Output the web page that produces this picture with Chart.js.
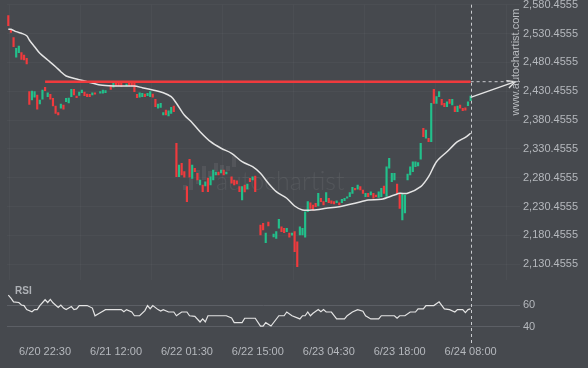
<!DOCTYPE html>
<html>
<head>
<meta charset="utf-8">
<script src="https://cdn.jsdelivr.net/npm/chart.js@4.4.1/dist/chart.umd.min.js"></script>
<style>
  html, body { margin: 0; padding: 0; background: #46494e; }
  #wrap { position: relative; width: 588px; height: 368px; overflow: hidden; }
  .panel { position: absolute; left: 0; width: 588px; }
  #pricePanel { top: 0; height: 280px; }
  #rsiPanel { top: 280px; height: 88px; }
</style>
</head>
<body>
<div id="wrap">
  <div class="panel" id="pricePanel"><canvas id="priceChart"></canvas></div>
  <div class="panel" id="rsiPanel"><canvas id="rsiChart"></canvas></div>
</div>
<script>
// velas de 30 min, t = numero de vela desde 6/20 22:30
const candleT = [
  -14, -13, -12, -11, -10, -9, -8, -7, -6, -5, -4, -3, -2, -1,
  0, 1, 2, 3, 4, 5, 6, 7, 8, 9, 10, 11, 12, 13, 14, 15, 16, 17, 18, 19,
  21, 22, 23, 25, 26, 27, 28, 29, 31, 32, 33, 34, 35, 36, 37, 38, 39, 40,
  41, 42, 43, 44, 45, 46, 47, 48, 49, 50, 51, 52, 53, 54, 55, 56, 57, 58,
  59, 60, 61, 62, 63, 64, 65, 66, 67, 68, 69, 71, 72, 73, 74, 75, 76, 77,
  78, 79, 80, 82, 83, 84, 85, 87, 88, 89, 90, 91, 92, 93, 94, 95, 96, 97,
  98, 99, 100, 101, 102, 103, 104, 105, 106, 107, 108, 109, 110, 111, 112,
  113, 114, 115, 116, 117, 118, 119, 120, 121, 122, 123, 124, 125, 126, 127,
  128, 129, 130, 131, 132, 133, 134, 135, 136, 137, 138, 139, 140, 141, 142,
  143, 144, 145, 146, 147, 148, 149, 150, 151, 152, 153, 154, 155, 156, 157,
  158, 159, 160, 161, 162
];
const candleOpen = [
  2561.4, 2537.8, 2523.3, 2489.3, 2497.3, 2497.3, 2493.3, 2487.5, 2429.7, 2415.3, 2420.0, 2423.9, 2408.3, 2416.5,
  2437.3, 2421.0, 2425.2, 2418.2, 2404.9, 2393.3, 2400.9, 2406.6, 2412.3, 2410.0, 2421.0, 2433.8, 2422.2, 2423.4, 2427.9, 2429.1, 2425.7, 2425.2, 2423.9, 2427.9,
  2427.0, 2427.0, 2428.0, 2441.3, 2437.3, 2447.0, 2445.3, 2444.2, 2439.5, 2444.2, 2445.3, 2447.0, 2425.2, 2420.0, 2421.0, 2425.7, 2422.7, 2421.0,
  2425.7, 2416.5, 2400.9, 2402.6, 2389.3, 2397.9, 2387.5, 2392.2, 2404.9, 2340.2, 2282.3, 2305.5, 2291.0, 2265.0, 2312.5, 2279.5, 2296.9, 2288.2,
  2268.0, 2268.0, 2266.2, 2280.0, 2268.0, 2276.6, 2285.3, 2290.5, 2288.8, 2294.0, 2287.0, 2282.3, 2276.6, 2275.0, 2265.0, 2242.0, 2268.0, 2261.0,
  2279.6, 2276.6, 2283.5, 2198.6, 2201.5, 2168.0, 2203.8, 2178.0, 2175.5, 2192.9, 2195.6, 2192.9, 2187.0, 2184.7, 2181.0, 2187.0, 2169.6, 2181.3,
  2181.3, 2177.3, 2221.6, 2237.2, 2233.2, 2236.2, 2231.5, 2244.9, 2239.0, 2239.0, 2244.9, 2240.7, 2239.0, 2237.2, 2237.2,
  2237.2, 2240.7, 2244.9, 2247.6, 2253.5, 2262.2, 2260.5, 2265.0, 2259.3, 2247.6, 2253.5, 2250.6, 2253.5, 2250.6, 2246.6,
  2247.6, 2266.2, 2248.0, 2296.9, 2273.6, 2276.6, 2269.7, 2253.5, 2207.3, 2219.4, 2276.6, 2285.3, 2291.0, 2299.6, 2301.0,
  2312.5, 2366.2, 2348.9, 2348.9, 2343.0, 2433.8, 2409.5, 2421.0, 2416.5, 2409.5, 2403.7, 2416.5, 2406.6, 2403.7, 2395.0,
  2406.6, 2400.9, 2401.5, 2405.4, 2414.1
];
const candleClose = [
  2544.1, 2532.6, 2507.7, 2504.9, 2508.9, 2485.8, 2484.6, 2477.7, 2407.8, 2430.9, 2429.7, 2399.2, 2415.3, 2432.6,
  2431.4, 2427.9, 2416.5, 2404.9, 2392.2, 2389.3, 2408.3, 2399.2, 2418.2, 2418.6, 2433.8, 2423.9, 2419.3, 2429.1, 2432.6, 2422.7, 2421.0, 2421.0, 2427.9, 2425.2,
  2429.7, 2432.6, 2431.4, 2433.8, 2447.0, 2439.5, 2439.5, 2438.3, 2443.0, 2439.5, 2439.5, 2429.7, 2419.3, 2427.9, 2426.9, 2421.0, 2426.9, 2429.7,
  2420.0, 2403.7, 2408.3, 2409.5, 2393.3, 2389.3, 2396.7, 2402.6, 2395.0, 2282.3, 2302.6, 2285.3, 2281.3, 2239.0, 2281.3, 2302.6, 2291.0, 2276.6,
  2276.6, 2256.3, 2273.6, 2256.3, 2282.3, 2294.0, 2290.5, 2285.3, 2294.0, 2285.3, 2290.5, 2270.9, 2268.0, 2270.0, 2256.3, 2265.0, 2255.8, 2269.6,
  2273.7, 2282.3, 2256.3, 2181.3, 2190.0, 2184.7, 2196.9, 2183.0, 2187.0, 2208.5, 2187.0, 2185.2, 2192.9, 2177.3, 2184.7, 2152.3, 2126.3, 2195.6,
  2192.9, 2221.6, 2239.0, 2227.5, 2224.5, 2230.3, 2253.5, 2239.0, 2233.2, 2254.6, 2237.2, 2236.2, 2235.0, 2240.7, 2233.2,
  2243.1, 2244.9, 2247.6, 2254.6, 2264.0, 2259.3, 2268.0, 2259.3, 2253.5, 2253.5, 2247.6, 2256.3, 2244.9, 2247.6, 2256.3,
  2262.2, 2253.5, 2299.6, 2314.2, 2288.2, 2288.2, 2253.5, 2227.5, 2253.5, 2250.6, 2287.0, 2299.6, 2308.3, 2308.3, 2307.0,
  2340.2, 2351.6, 2363.3, 2343.0, 2409.5, 2409.5, 2421.0, 2429.7, 2406.6, 2403.7, 2412.3, 2409.5, 2416.5, 2395.0, 2404.9,
  2400.9, 2396.7, 2397.5, 2412.3, 2422.2
];

// media movil (blanca)
const maT = [-14, -13, -11, -9, -7, -6, -4, -2, 1, 4, 6, 8, 12, 16, 21, 26, 30, 34, 37, 41, 45, 48, 50, 53,
  56, 59, 63, 67, 71, 75, 79, 82, 85, 88, 92, 95, 98, 102, 107, 112, 118, 123, 128, 133, 135, 138, 143,
  146, 149, 153, 157, 160, 162];
const maValues = [2537.8, 2537.8, 2533.7, 2530.9, 2526.7, 2519.3, 2507.7, 2496.2, 2484.6, 2473.0, 2464.3,
  2456.9, 2451.7, 2447.0, 2441.3, 2439.5, 2439.5, 2439.5, 2436.6, 2432.6, 2427.9, 2421.0, 2409.6, 2389.3,
  2376.0, 2360.4, 2343.0, 2331.6, 2322.9, 2308.3, 2299.7, 2288.2, 2270.9, 2256.3, 2244.9, 2231.5, 2224.6,
  2224.6, 2227.5, 2230.3, 2236.2, 2241.9, 2243.1, 2250.6, 2253.5, 2253.5, 2265.0, 2282.3, 2308.3, 2325.6,
  2343.0, 2350.6, 2357.6];

// nivel de resistencia y proyeccion
const resistLevel = 2447.0;
const resistFrom = 0;
const lastT = 162;
const lastPrice = 2420.0;
const projEndT = 179;

// RSI
const rsiT = [-14, -13, -12, -10, -9, -8, -7, -5, -4, -3, -2, 0, 1, 2, 3, 5, 6, 7, 8, 10, 11, 12, 13, 16,
  18, 19, 21, 23, 26, 29, 30, 31, 33, 34, 36, 38, 39, 40, 41, 43, 44, 45, 47, 49, 50, 52, 54, 55, 57, 59,
  60, 61, 62, 69, 71, 72, 75, 76, 80, 82, 83, 84, 86, 89, 91, 92, 94, 97, 98, 99, 100, 101, 102, 104, 105,
  106, 107, 109, 111, 114, 115, 117, 119, 121, 122, 124, 127, 128, 133, 134, 135, 137, 139, 141, 142, 144,
  145, 148, 150, 152, 154, 156, 157, 159, 160, 161, 162];
const rsiValues = [69.1, 66.3, 62.9, 62.3, 60.0, 59.5, 55.8, 53.8, 55.8, 55.8, 59.5, 64.8, 62.3, 65.1, 62.0,
  57.8, 60.0, 57.2, 55.8, 58.6, 55.8, 56.4, 59.5, 59.5, 57.2, 50.2, 53.0, 55.8, 55.8, 55.8, 53.8, 55.8,
  53.6, 50.2, 50.2, 54.9, 59.5, 56.6, 59.5, 55.8, 54.4, 55.8, 53.6, 53.6, 50.2, 53.6, 53.6, 50.2, 49.6,
  44.5, 47.3, 44.5, 50.2, 50.2, 48.1, 43.9, 43.9, 47.9, 47.9, 40.8, 40.8, 43.9, 40.8, 50.2, 50.2, 53.6,
  50.2, 47.3, 50.2, 50.2, 53.6, 50.2, 52.4, 55.8, 53.8, 55.8, 53.6, 53.6, 47.3, 47.3, 50.2, 53.6, 55.8,
  54.4, 50.2, 47.3, 47.3, 50.2, 50.2, 47.9, 50.2, 50.2, 53.6, 53.6, 56.4, 56.4, 59.5, 59.5, 62.9, 56.4,
  55.8, 53.6, 55.8, 55.8, 53.0, 55.8, 56.4];

// ejes
const priceTicks = [2130.4555, 2180.4555, 2230.4555, 2280.4555, 2330.4555, 2380.4555, 2430.4555,
  2480.4555, 2530.4555, 2580.4555];
const rsiTicks = [40, 60];
const timeTicks = [0, 27, 54, 81, 108, 135, 162];
const timeLabels = ["6/20 22:30", "6/21 12:00", "6/22 01:30", "6/22 15:00", "6/23 04:30", "6/23 18:00", "6/24 08:00"];

const VERDE = "#22c08b";
const ROJO = "#f03a3d";
const TEXTO = "#b5b8bd";
const X_MIN = -14.5;
const X_MAX = 180.8;

Chart.defaults.font.family = "'Liberation Sans', Arial, sans-serif";
Chart.defaults.font.size = 11;
Chart.defaults.color = TEXTO;

// ancho fijo del eje derecho y sin relleno extra arriba/abajo
function ajusteEjeY(scale) {
  scale.width = 68;
  scale.paddingTop = 0;
  scale.paddingBottom = 0;
}

// linea vertical punteada en la ultima vela
function lineaVertical(chart, top, bottom) {
  const x = Math.round(chart.scales.x.getPixelForValue(lastT)) + 0.5;
  const ctx = chart.ctx;
  ctx.save();
  ctx.strokeStyle = "#c9cbcf";
  ctx.lineWidth = 1;
  ctx.setLineDash([3, 3]);
  ctx.beginPath();
  ctx.moveTo(x, top);
  ctx.lineTo(x, bottom);
  ctx.stroke();
  ctx.restore();
}

const precioPlugin = {
  id: "precioPlugin",
  beforeDatasetsDraw(chart) {
    // marca de agua
    const ctx = chart.ctx;
    ctx.save();
    ctx.fillStyle = "rgba(255,255,255,0.07)";
    const barras = [[183, 185, 5], [189, 178, 12], [196, 170, 14], [202, 166, 14], [208, 171, 6],
      [214, 163, 8], [220, 165, 6], [226, 166, 5], [232, 156, 11]];
    barras.forEach(function (b) {
      ctx.fillRect(b[0], b[1], 4, b[2]);
    });
    ctx.font = "300 25px Lato, sans-serif";
    ctx.textBaseline = "alphabetic";
    ctx.fillText("autochartist", 216, 190);
    ctx.restore();
  },
  afterDatasetsDraw(chart) {
    const ctx = chart.ctx;
    const area = chart.chartArea;
    lineaVertical(chart, area.top, chart.height);

    // punta de flecha de la proyeccion
    const pts = chart.getDatasetMeta(3).data;
    const p0 = pts[0], p1 = pts[1];
    const ang = Math.atan2(p1.y - p0.y, p1.x - p0.x);
    ctx.save();
    ctx.strokeStyle = "#e6e6e6";
    ctx.lineWidth = 1.3;
    ctx.beginPath();
    ctx.moveTo(p1.x - 9 * Math.cos(ang - 0.45), p1.y - 9 * Math.sin(ang - 0.45));
    ctx.lineTo(p1.x, p1.y);
    ctx.lineTo(p1.x - 9 * Math.cos(ang + 0.45), p1.y - 9 * Math.sin(ang + 0.45));
    ctx.stroke();

    // texto vertical
    ctx.translate(516, 62);
    ctx.rotate(-Math.PI / 2);
    ctx.fillStyle = "#b9bcc0";
    ctx.font = "11px 'Liberation Sans', Arial, sans-serif";
    ctx.textAlign = "center";
    ctx.textBaseline = "middle";
    ctx.fillText("www.autochartist.com", 0, 0);
    ctx.restore();
  },
};

const rsiPlugin = {
  id: "rsiPlugin",
  afterDatasetsDraw(chart) {
    lineaVertical(chart, 0, chart.chartArea.bottom + 5);
    const ctx = chart.ctx;
    ctx.save();
    ctx.fillStyle = "#aeb1b6";
    ctx.font = "bold 10px 'Liberation Sans', Arial, sans-serif";
    ctx.textBaseline = "middle";
    ctx.fillText("RSI", 15, 11);
    ctx.restore();
  },
};

new Chart(document.getElementById("priceChart"), {
  type: "bar",
  data: {
    datasets: [
      {
        type: "bar",
        data: candleT.map((t, i) => ({ x: t, y: [candleOpen[i], candleClose[i]] })),
        backgroundColor: candleT.map((t, i) => (candleClose[i] >= candleOpen[i] ? VERDE : ROJO)),
        barThickness: 1.5,
        order: 5,
      },
      {
        type: "line",
        data: maT.map((t, i) => ({ x: t, y: maValues[i] })),
        borderColor: "#e4e4e4",
        borderWidth: 1.5,
        pointRadius: 0,
        tension: 0.3,
        order: 2,
      },
      {
        type: "line",
        data: [{ x: resistFrom, y: resistLevel }, { x: lastT, y: resistLevel }],
        borderColor: ROJO,
        borderWidth: 2.5,
        pointRadius: 0,
        order: 1,
      },
      {
        type: "line",
        data: [{ x: lastT, y: lastPrice }, { x: projEndT, y: resistLevel }],
        borderColor: "#e6e6e6",
        borderWidth: 1.3,
        pointRadius: 0,
        order: 1,
      },
      {
        type: "line",
        data: [{ x: lastT, y: resistLevel }, { x: X_MAX, y: resistLevel }],
        borderColor: "#c9cbcf",
        borderWidth: 1,
        borderDash: [3, 3],
        pointRadius: 0,
        order: 1,
      },
    ],
  },
  options: {
    responsive: true,
    maintainAspectRatio: false,
    animation: false,
    devicePixelRatio: 1,
    layout: { padding: { left: 7, top: 4.7, right: 0, bottom: 0 } },
    plugins: { legend: { display: false }, tooltip: { enabled: false } },
    scales: {
      x: {
        type: "linear",
        offset: false,
        min: X_MIN,
        max: X_MAX,
        afterBuildTicks: (s) => { s.ticks = timeTicks.map((v) => ({ value: v })); },
        ticks: { display: false },
        grid: { color: "rgba(255,255,255,0.03)", drawTicks: false },
        border: { display: false },
      },
      y: {
        position: "right",
        min: 2103.25,
        max: 2580.4555,
        afterFit: ajusteEjeY,
        afterBuildTicks: (s) => { s.ticks = priceTicks.map((v) => ({ value: v })); },
        ticks: {
          padding: 3,
          callback: (v) => v.toLocaleString("en-US", { minimumFractionDigits: 4, maximumFractionDigits: 4 }),
        },
        grid: { color: "rgba(255,255,255,0.03)", drawTicks: false },
        border: { display: false },
      },
    },
  },
  plugins: [precioPlugin],
});

new Chart(document.getElementById("rsiChart"), {
  type: "line",
  data: {
    datasets: [
      {
        data: rsiT.map((t, i) => ({ x: t, y: rsiValues[i] })),
        borderColor: "#e4e4e4",
        borderWidth: 1.2,
        pointRadius: 0,
        tension: 0,
      },
    ],
  },
  options: {
    responsive: true,
    maintainAspectRatio: false,
    animation: false,
    devicePixelRatio: 1,
    layout: { padding: { left: 7, top: 3, right: 0, bottom: 5.4 } },
    plugins: { legend: { display: false }, tooltip: { enabled: false } },
    scales: {
      x: {
        type: "linear",
        offset: false,
        min: X_MIN,
        max: X_MAX,
        afterBuildTicks: (s) => { s.ticks = timeTicks.map((v) => ({ value: v })); },
        ticks: {
          padding: 4.4,
          maxRotation: 0,
          autoSkip: false,
          callback: (v) => timeLabels[timeTicks.indexOf(v)],
        },
        grid: { display: false, drawTicks: false },
        border: { display: false },
      },
      y: {
        position: "right",
        min: 27.5,
        max: 80.1,
        afterFit: ajusteEjeY,
        afterBuildTicks: (s) => { s.ticks = rsiTicks.map((v) => ({ value: v })); },
        ticks: { padding: 3 },
        grid: { color: "#5c5f65", drawTicks: false },
        border: { display: false },
      },
    },
  },
  plugins: [rsiPlugin],
});
</script>
</body>
</html>
